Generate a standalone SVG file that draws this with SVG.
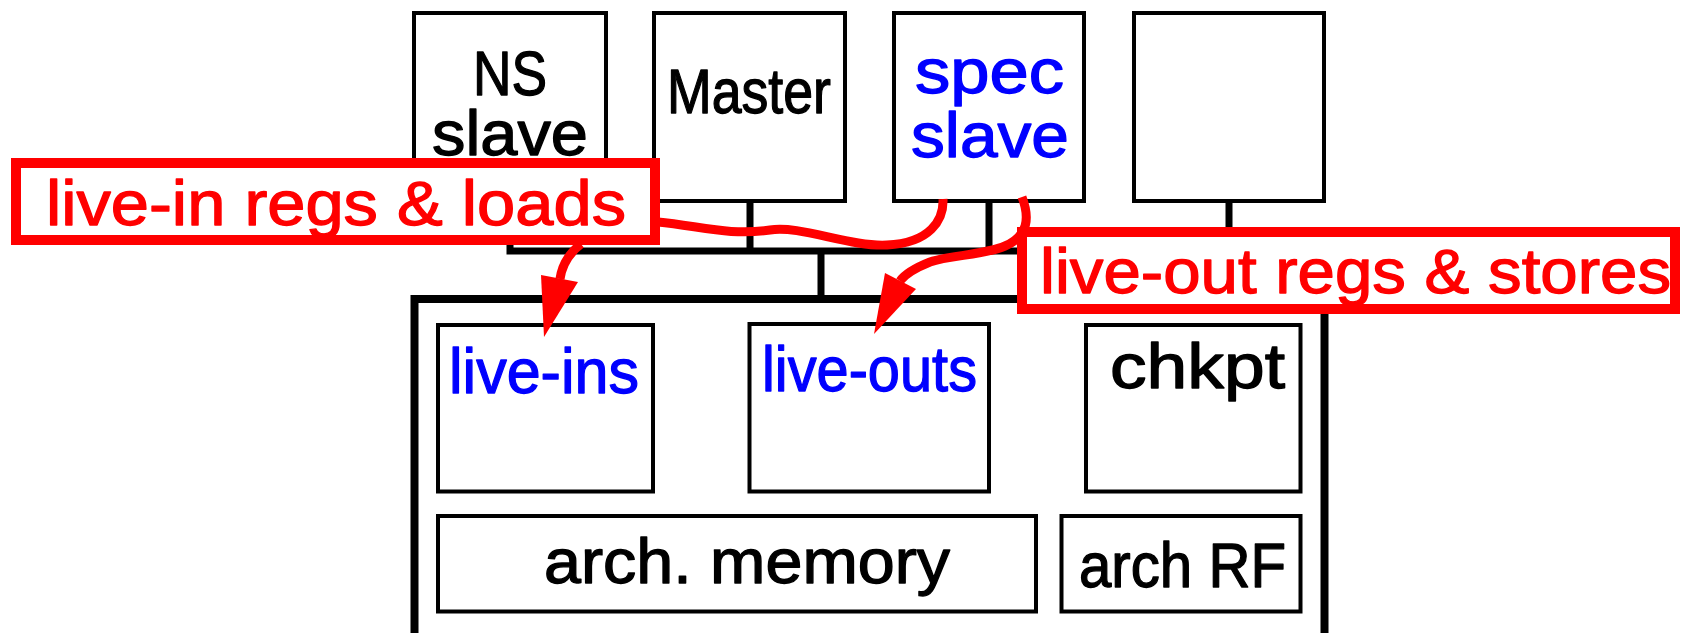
<svg xmlns="http://www.w3.org/2000/svg" width="1685" height="633" viewBox="0 0 1685 633">
  <style>
    .box { fill: #fff; stroke: #000; stroke-width: 4; }
    .outer { fill: #fff; stroke: #000; stroke-width: 8; }
    .bus { fill: none; stroke: #000; stroke-width: 7; }
    .t { font-family: "Liberation Sans", Arial, sans-serif; font-size: 63px; stroke-width: 1.3; stroke-linejoin: round; }
    .blk { fill: #000; stroke: #000; }
    .blu { fill: #0000ff; stroke: #0000ff; }
    .red { fill: #ff0000; stroke: #ff0000; }
    .flow { fill: none; stroke: #ff0000; stroke-width: 9; }
    .head { fill: #ff0000; stroke: none; }
    .tag { fill: #fff; stroke: #ff0000; stroke-width: 10; }
  </style>

  <!-- processors on the top row -->
  <g id="ns-slave">
    <rect class="box" x="414" y="13" width="192" height="188"/>
    <text class="t blk" x="473" y="95" textLength="74" lengthAdjust="spacingAndGlyphs">NS</text>
    <text class="t blk" x="432" y="155" textLength="156" lengthAdjust="spacingAndGlyphs">slave</text>
  </g>
  <g id="master">
    <rect class="box" x="654" y="13" width="191" height="188"/>
    <text class="t blk" x="667" y="113" textLength="164" lengthAdjust="spacingAndGlyphs">Master</text>
  </g>
  <g id="spec-slave">
    <rect class="box" x="894" y="13" width="190" height="188"/>
    <text class="t blu" x="915" y="93" textLength="149" lengthAdjust="spacingAndGlyphs">spec</text>
    <text class="t blu" x="911" y="157" textLength="158" lengthAdjust="spacingAndGlyphs">slave</text>
  </g>
  <g id="proc-4">
    <rect class="box" x="1134" y="13" width="190" height="188"/>
  </g>

  <!-- shared bus -->
  <g id="connectors">
    <path class="bus" d="M510,201 V251 H1229 V201"/>
    <path class="bus" d="M750,201 V251 M989,201 V251 M821,251 V299"/>
  </g>

  <!-- memory system -->
  <g id="memory-system">
    <rect class="outer" x="414.5" y="299" width="910" height="360"/>
  </g>
  <g id="live-ins">
    <rect class="box" x="438" y="325" width="215" height="166.5"/>
    <text class="t blu" x="449" y="393" textLength="190" lengthAdjust="spacingAndGlyphs">live-ins</text>
  </g>
  <g id="live-outs">
    <rect class="box" x="749.5" y="324" width="239.5" height="167.5"/>
    <text class="t blu" x="762" y="391" textLength="215" lengthAdjust="spacingAndGlyphs">live-outs</text>
  </g>
  <g id="chkpt">
    <rect class="box" x="1086" y="325" width="214.5" height="166.5"/>
    <text class="t blk" x="1110" y="388" textLength="175" lengthAdjust="spacingAndGlyphs">chkpt</text>
  </g>
  <g id="arch-memory">
    <rect class="box" x="438" y="516" width="598" height="95.5"/>
    <text class="t blk" x="544" y="583" textLength="406" lengthAdjust="spacingAndGlyphs">arch. memory</text>
  </g>
  <g id="arch-rf">
    <rect class="box" x="1061.5" y="516" width="239" height="95.5"/>
    <text class="t blk" x="1079" y="587" textLength="207" lengthAdjust="spacingAndGlyphs">arch RF</text>
  </g>

  <!-- data flows -->
  <g id="flows">
    <path class="flow" d="M658,222 C700,226 730,236 770,230 C800,225 850,247 887,245 C930,243 944,220 943,199"/>
    <path class="flow" d="M581,244 Q563,258 560,279"/>
    <polygon class="head" points="541,275 578,282 544,337"/>
    <path class="flow" d="M1022,197 C1030,218 1028,236 1005,246 C985,255 950,255 930,262 C915,268 905,274 900,281"/>
    <polygon class="head" points="885,273 916,289 874,334"/>
  </g>

  <g id="tag-live-in">
    <rect class="tag" x="16" y="163" width="639" height="77"/>
    <text class="t red" x="46" y="225" textLength="580" lengthAdjust="spacingAndGlyphs">live-in regs &amp; loads</text>
  </g>
  <g id="tag-live-out">
    <rect class="tag" x="1022" y="232" width="653" height="77"/>
    <text class="t red" x="1040" y="293" textLength="631" lengthAdjust="spacingAndGlyphs">live-out regs &amp; stores</text>
  </g>
</svg>
